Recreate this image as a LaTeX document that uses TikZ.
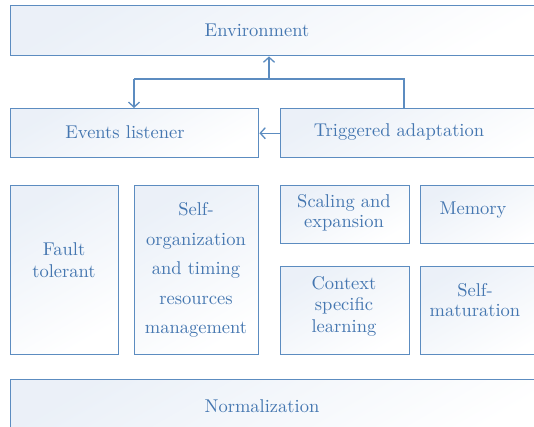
\documentclass[tikz,border=0pt]{standalone}
\usetikzlibrary{arrows.meta}
\definecolor{boxline}{RGB}{92,140,192}
\definecolor{boxtext}{RGB}{68,118,176}
\definecolor{boxfill}{RGB}{226,234,245}
\tikzset{
    blockbox/.style={draw=boxline, line width=1.4pt, anchor=north west, inner sep=0pt,
        top color=boxfill!70, bottom color=white, shading angle=30},
    blocktext/.style={text=boxtext, align=center, inner sep=0pt, scale=1.85,
        font=\fontsize{10}{11.6}\selectfont},
    link/.style={draw=boxline, line width=1.3pt, -{Straight Barb[length=5pt,width=11pt]}}
}
\begin{document}
\begin{tikzpicture}[x=1pt, y=-1pt]
        \useasboundingbox (0, 0) rectangle (534, 427);
        \clip (0, 0) rectangle (534, 427);
        % boxes
        \node[blockbox, minimum width=540pt, minimum height=50pt] (env) at (10, 5) {};
        \node[blockbox, minimum width=248pt, minimum height=49pt] (events) at (10, 108) {};
        \node[blockbox, minimum width=270pt, minimum height=49pt] (trig) at (280, 108) {};
        \node[blockbox, minimum width=108pt, minimum height=169pt] (fault) at (10, 185) {};
        \node[blockbox, minimum width=124pt, minimum height=169pt] (selforg) at (134, 185) {};
        \node[blockbox, minimum width=129pt, minimum height=58pt] (scaling) at (280, 185) {};
        \node[blockbox, minimum width=130pt, minimum height=58pt] (memory) at (420, 185) {};
        \node[blockbox, minimum width=129pt, minimum height=88pt] (context) at (280, 266) {};
        \node[blockbox, minimum width=130pt, minimum height=88pt] (selfmat) at (420, 266) {};
        \node[blockbox, minimum width=540pt, minimum height=60pt] (norm) at (10, 379) {};

        % labels
        \node[blocktext] at (257, 30) {Environment};
        \node[blocktext] at (125, 132) {Events listener};
        \node[blocktext] at (399, 132) {Triggered adaptation};
        \node[blocktext] at (64, 260) {Fault\\tolerant};
        \node[blocktext, font=\fontsize{10}{16}\selectfont] at (196, 270) {Self-\\organization\\and timing\\resources\\management};
        \node[blocktext, font=\fontsize{10}{11}\selectfont] at (344, 213) {Scaling and\\expansion};
        \node[blocktext] at (473, 210) {Memory};
        \node[blocktext] at (344, 306) {Context\\specific\\learning};
        \node[blocktext, font=\fontsize{10}{11}\selectfont] at (475, 300) {Self-\\maturation};
        \node[blocktext] at (262, 406) {Normalization};

        % connectors
        \coordinate (split) at (269, 79);
        \draw[link] (split) -- (env.south -| split);
        \draw[draw=boxline, line width=1.3pt] (trig.north -| 404, 0) |- (134, 79);
        \draw[link] (134, 79) -- (events.north -| 134, 0);
        \draw[link] (trig.west) -- (events.east);
\end{tikzpicture}
\end{document}
